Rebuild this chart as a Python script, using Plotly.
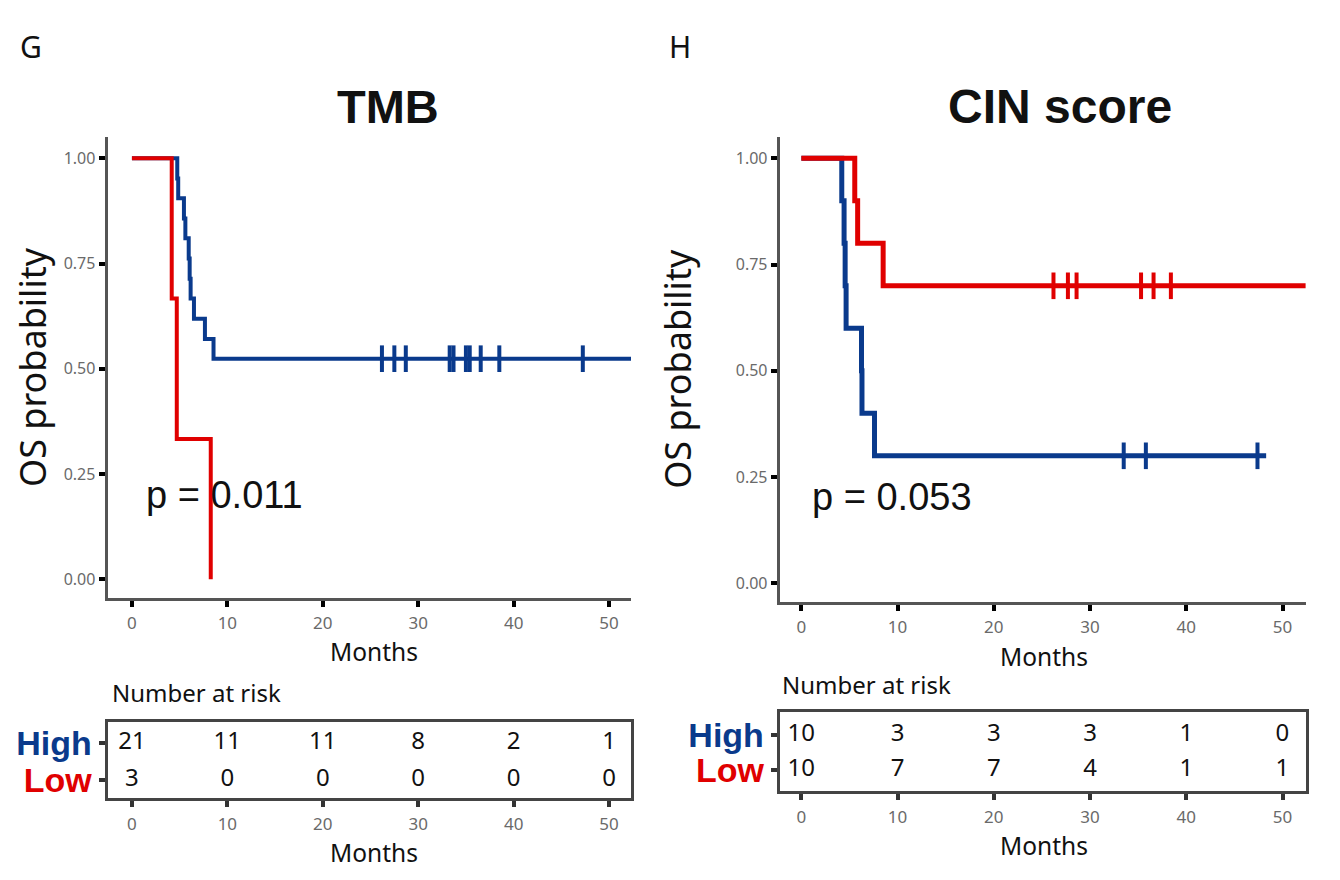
import plotly.graph_objects as go

# the page body adds an 8px margin, so the figure is 8px smaller and all pixel positions are offset
OFF = 8
W, H = 1340 - OFF, 880 - OFF
BLUE = "#0A3A8C"
RED = "#E00000"
GRAY = "#6a6a6a"
AXC = "#555555"

# ---------------- data ----------------
month_ticks = [0, 10, 20, 30, 40, 50]
prob_ticks = [0.0, 0.25, 0.5, 0.75, 1.0]
prob_labels = ["0.00", "0.25", "0.50", "0.75", "1.00"]
groups = ["High", "Low"]

# TMB panel (G)
tmb_high_t = [0, 4.75, 4.85, 5.45, 5.6, 5.95, 6.05, 6.15, 6.5, 7.65, 8.55, 52.5]
tmb_high_s = [1.0, 0.952, 0.905, 0.857, 0.810, 0.762, 0.714, 0.667, 0.619, 0.571, 0.524, 0.524]
tmb_high_cens = [26.2, 27.5, 28.7, 33.3, 33.7, 35.0, 35.4, 36.55, 38.5, 47.25]
tmb_low_t = [0, 4.17, 4.7, 8.26]
tmb_low_s = [1.0, 0.667, 0.333, 0.0]
tmb_low_cens = []
tmb_risk_high = [21, 11, 11, 8, 2, 1]
tmb_risk_low = [3, 0, 0, 0, 0, 0]
tmb_p = "p = 0.011"

# CIN score panel (H)
cin_high_t = [0, 4.2, 4.44, 4.55, 4.65, 6.25, 6.3, 7.6, 48.3]
cin_high_s = [1.0, 0.9, 0.8, 0.7, 0.6, 0.5, 0.4, 0.3, 0.3]
cin_high_cens = [33.5, 35.8, 47.4]
cin_low_t = [0, 5.55, 5.85, 8.5, 52.5]
cin_low_s = [1.0, 0.9, 0.8, 0.7, 0.7]
cin_low_cens = [26.2, 27.7, 28.6, 35.3, 36.6, 38.4]
cin_risk_high = [10, 3, 3, 3, 1, 0]
cin_risk_low = [10, 7, 7, 4, 1, 1]
cin_p = "p = 0.053"


def surv_at(t, times, surv):
    s = surv[0]
    for ti, si in zip(times, surv):
        if ti <= t:
            s = si
    return s


def px(x):
    return (x - OFF) / W


def py(y):
    return 1 - (y - OFF) / H


fig = go.Figure()

panels = [
    dict(ax="", km=[(tmb_high_t, tmb_high_s, tmb_high_cens, BLUE), (tmb_low_t, tmb_low_s, tmb_low_cens, RED)],
         risk=(tmb_risk_high, tmb_risk_low), lw=4, tax="3"),
    dict(ax="2", km=[(cin_high_t, cin_high_s, cin_high_cens, BLUE), (cin_low_t, cin_low_s, cin_low_cens, RED)],
         risk=(cin_risk_high, cin_risk_low), lw=5, tax="4"),
]

for p in panels:
    xa, ya = "x" + p["ax"], "y" + p["ax"]
    for t, s, c, col in p["km"]:
        fig.add_trace(go.Scatter(x=t, y=s, mode="lines", line=dict(color=col, width=p["lw"], shape="hv"),
                                 xaxis=xa, yaxis=ya, showlegend=False, hoverinfo="skip"))
        if c:
            fig.add_trace(go.Scatter(x=c, y=[surv_at(ci, t, s) for ci in c], mode="markers",
                                     marker=dict(symbol="line-ns", size=19, line=dict(color=col, width=4)),
                                     xaxis=xa, yaxis=ya, showlegend=False, hoverinfo="skip"))
    txa, tya = "x" + p["tax"], "y" + p["tax"]
    hi, lo = p["risk"]
    fig.add_trace(go.Scatter(x=month_ticks, y=[2] * len(month_ticks), mode="text", text=[str(v) for v in hi],
                             textfont=dict(size=24, color="#111", family="Noto Sans"),
                             xaxis=txa, yaxis=tya, showlegend=False, hoverinfo="skip"))
    fig.add_trace(go.Scatter(x=month_ticks, y=[1] * len(month_ticks), mode="text", text=[str(v) for v in lo],
                             textfont=dict(size=24, color="#111", family="Noto Sans"),
                             xaxis=txa, yaxis=tya, showlegend=False, hoverinfo="skip"))

km_common = dict(showline=True, linewidth=3, linecolor=AXC, ticks="outside", ticklen=6, tickwidth=4,
                 tickcolor="#000", showgrid=False, zeroline=False, fixedrange=True)
xfont = dict(size=17, color=GRAY, family="Noto Sans")
yfont = dict(size=16, color=GRAY, family="Noto Sans")
tfont = dict(size=36, family="Noto Sans", color="#111")

fig.update_layout(
    width=W, height=H, margin=dict(l=0, r=0, t=0, b=0), paper_bgcolor="white", plot_bgcolor="white",
    xaxis=dict(domain=[px(107.6), px(631)], range=[-2.55, 52.3], tickvals=month_ticks, tickfont=xfont,
               anchor="y", ticklabelstandoff=2, **km_common),
    yaxis=dict(domain=[py(598), py(136.9)], range=[-0.0444, 1.0508], tickvals=prob_ticks, ticktext=prob_labels,
               tickfont=yfont, anchor="x", title=dict(text="OS probability", font=tfont, standoff=26),
               **km_common),
    xaxis2=dict(domain=[px(779.7), px(1305.6)], range=[-2.25, 52.4], tickvals=month_ticks, tickfont=xfont,
                anchor="y2", ticklabelstandoff=2, **km_common),
    yaxis2=dict(domain=[py(601.7), py(136.8)], range=[-0.0433, 1.0506], tickvals=prob_ticks, ticktext=prob_labels,
                tickfont=yfont, anchor="x2", title=dict(text="OS probability", font=tfont, standoff=34),
                **km_common),
)

hl = ["<b><span style='color:%s'>High</span></b>" % BLUE, "<b><span style='color:%s'>Low</span></b>" % RED]
tbl_common = dict(showline=True, linewidth=3, linecolor="#444", mirror=True, ticks="outside", ticklen=6,
                  tickwidth=4, tickcolor="#333", showgrid=False, zeroline=False, fixedrange=True)
fig.update_layout(
    xaxis3=dict(domain=[px(107.6), px(631)], range=[-2.55, 52.3], tickvals=month_ticks, tickfont=xfont,
                anchor="y3", ticklabelstandoff=3, **tbl_common),
    yaxis3=dict(domain=[py(798), py(722)], range=[0.514, 2.568], tickvals=[2, 1], ticktext=hl,
                tickfont=dict(size=34, family="Liberation Sans"), anchor="x3", **tbl_common),
    xaxis4=dict(domain=[px(779.7), px(1305.6)], range=[-2.25, 52.4], tickvals=month_ticks, tickfont=xfont,
                anchor="y4", ticklabelstandoff=3, **tbl_common),
    yaxis4=dict(domain=[py(791), py(712)], range=[0.4, 2.657], tickvals=[2, 1], ticktext=hl,
                tickfont=dict(size=34, family="Liberation Sans"), anchor="x4", **tbl_common),
)


def ann(text, x, y, size, family="Noto Sans", bold=False, color="#111", xanchor="center", angle=0):
    fig.add_annotation(text=("<b>%s</b>" % text) if bold else text, x=px(x), y=py(y), xref="paper", yref="paper",
                       showarrow=False, xanchor=xanchor, yanchor="middle", textangle=angle, borderpad=0,
                       font=dict(size=size, family=family, color=color))


ann("G", 31, 46, 30)
ann("H", 680, 46, 30)
ann("TMB", 388, 106, 47, family="Liberation Sans", bold=True)
ann("CIN score", 1060, 106, 48, family="Liberation Sans", bold=True)
ann(tmb_p, 224, 495, 38, family="Liberation Sans")
ann(cin_p, 892, 497, 38, family="Liberation Sans")
ann("Months", 374, 651, 24.5)
ann("Months", 1044, 656, 24.5)
ann("Number at risk", 111, 692, 24, xanchor="left")
ann("Number at risk", 781, 684, 24, xanchor="left")
ann("Months", 374, 852, 24.5)
ann("Months", 1044, 845, 24.5)

fig.write_html("out.html")
